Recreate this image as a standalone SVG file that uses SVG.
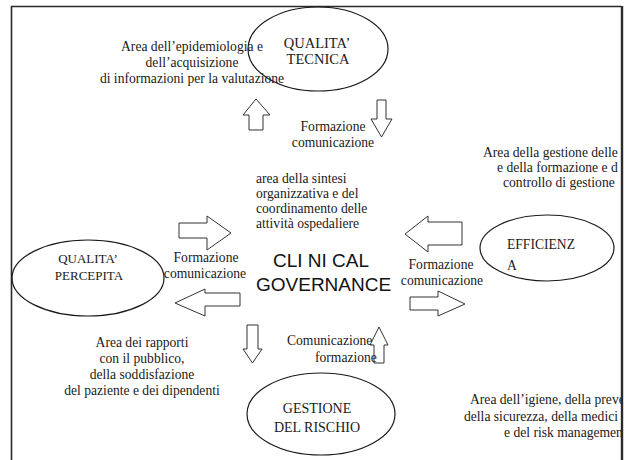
<svg xmlns="http://www.w3.org/2000/svg" width="629" height="460" viewBox="0 0 629 460">
<style>
.t{font-family:"Liberation Serif","Tinos","DejaVu Serif","Noto Serif",serif;font-size:13.6px;fill:#1a1a1a}
.c{text-anchor:middle}
.e{fill:none;stroke:#1a1a1a;stroke-width:1.2}
.n{font-family:"Liberation Serif","Tinos","DejaVu Serif","Noto Serif",serif;fill:#1a1a1a;text-anchor:middle}
.a{fill:#fff;stroke:#333;stroke-width:1}
.g{font-family:"Liberation Sans",Arial,sans-serif;font-size:19px;fill:#111}
</style>
<defs>
<clipPath id="clip"><rect x="0" y="0" width="621" height="460"/></clipPath>
</defs>
<rect width="629" height="460" fill="#fff"/>
<g id="frame">
<path d="M11.5,461 V6.5 H621.5" fill="none" stroke="#2a2a2a" stroke-width="1.6"/>
<path d="M622,6 V461" fill="none" stroke="#2a2a2a" stroke-width="2.4"/>
</g>
<g id="node-qualita-tecnica">
<ellipse class="e" cx="318" cy="49" rx="70" ry="42"/>
<text class="n" x="317" y="48" font-size="14.5">QUALITA’</text>
<text class="n" x="318" y="64" font-size="14.5">TECNICA</text>
</g>
<g id="node-qualita-percepita">
<ellipse class="e" cx="88" cy="278" rx="76" ry="38"/>
<text class="n" x="88" y="263" font-size="13">QUALITA’</text>
<text class="n" x="89" y="280" font-size="13">PERCEPITA</text>
</g>
<g id="node-efficienza">
<ellipse class="e" cx="547" cy="248" rx="67" ry="33"/>
<text class="n" x="507" y="249" font-size="13.6" style="text-anchor:start">EFFICIENZ</text>
<text class="n" x="507" y="270" font-size="13.6" style="text-anchor:start">A</text>
</g>
<g id="node-gestione-rischio">
<ellipse class="e" cx="321" cy="414" rx="74" ry="41"/>
<text class="n" x="317" y="413" font-size="14">GESTIONE</text>
<text class="n" x="317" y="432" font-size="14">DEL RISCHIO</text>
</g>
<g id="node-clinical-governance">
<text class="g" x="273" y="267">CLI NI CAL</text>
<text class="g" x="256" y="291">GOVERNANCE</text>
</g>
<g id="labels">
<text class="t c" x="192" y="51">Area dell’epidemiologia e</text>
<text class="t c" x="192" y="67">dell’acquisizione</text>
<text class="t c" x="192" y="83">di informazioni per la valutazione</text>
<text class="t" x="256" y="183">area della sintesi</text>
<text class="t" x="256" y="198">organizzativa e del</text>
<text class="t" x="256" y="213">coordinamento delle</text>
<text class="t" x="256" y="228">attività ospedaliere</text>
<text class="t c" x="142" y="347">Area dei rapporti</text>
<text class="t c" x="142" y="363">con il pubblico,</text>
<text class="t c" x="142" y="379">della soddisfazione</text>
<text class="t c" x="142" y="395">del paziente e dei dipendenti</text>
<g clip-path="url(#clip)">
<text class="t" x="483" y="157">Area della gestione delle r</text>
<text class="t" x="497" y="172">e della formazione e d</text>
<text class="t" x="503" y="187">controllo di gestione</text>
<text class="t" x="470" y="404">Area dell’igiene, della preve</text>
<text class="t" x="464" y="421">della sicurezza, della medici</text>
<text class="t" x="504" y="437">e del risk managemen</text>
</g>
</g>
<g id="connectors">
<polygon class="a" points="256,99 270,115 263,115 263,130 249,130 249,115 243,115"/>
<polygon class="a" points="377,100 386,100 386,119 392,119 381.5,137 371,119 377,119"/>
<text class="t c" x="333" y="131">Formazione</text>
<text class="t c" x="333" y="147">comunicazione</text>
<polygon class="a" points="179,223 207,223 207,216 231,233 207,250 207,238 179,238"/>
<polygon class="a" points="240,293 240,306 205,306 205,316 175,303 205,289 205,293"/>
<text class="t c" x="206" y="262">Formazione</text>
<text class="t c" x="205" y="278">comunicazione</text>
<polygon class="a" points="462,222 462,245 428,245 428,252 405,234 428,216 428,222"/>
<polygon class="a" points="410,297 438,297 438,291 465,304 438,316 438,310 410,310"/>
<text class="t c" x="441" y="269">Formazione</text>
<text class="t c" x="442" y="285">comunicazione</text>
<polygon class="a" points="247,325 258,325 258,349 262,349 252.5,363 243,349 247,349"/>
<polygon class="a" points="379,327 388,345 384,345 384,363 374,363 374,345 370,345"/>
<text class="t" x="287" y="345">Comunicazione</text>
<text class="t" x="315" y="362">formazione</text>
</g>
</svg>
